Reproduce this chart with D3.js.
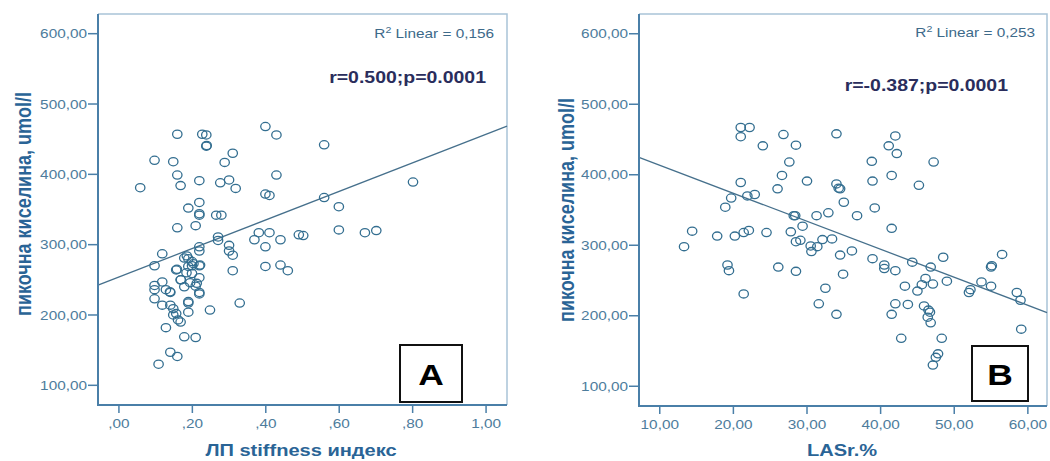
<!DOCTYPE html>
<html>
<head>
<meta charset="utf-8">
<script src="https://cdn.jsdelivr.net/npm/d3@7"></script>
<style>
  body { margin: 0; background: #fff; }
  svg { display: block; font-family: "Liberation Sans", Arial, sans-serif; }
</style>
</head>
<body>
<svg id="chart" width="1050" height="461"></svg>
<script>
// panel A: LA stiffness index vs uric acid
const aStiff = [0.058,0.097,0.097,0.118,0.097,0.097,0.097,0.118,0.118,0.128,0.14,0.14,0.128,0.14,0.159,0.108,
  0.148,0.159,0.159,0.168,0.159,0.148,0.156,0.148,0.168,0.158,0.168,0.178,0.189,0.189,0.189,0.178,0.178,0.189,
  0.199,0.199,0.189,0.184,0.199,0.194,0.209,0.219,0.219,0.209,0.219,0.219,0.219,0.219,0.219,0.219,0.219,0.219,
  0.209,0.248,0.227,0.238,0.239,0.238,0.265,0.279,0.276,0.288,0.3,0.31,0.318,0.27,0.27,0.3,0.3,0.31,0.31,0.329,
  0.369,0.381,0.399,0.429,0.429,0.399,0.41,0.399,0.41,0.44,0.399,0.44,0.46,0.49,0.502,0.559,0.559,0.599,0.599,
  0.67,0.701,0.801,0.185,0.203,0.156,0.221,0.169,0.212,0.139,0.189,0.161];
const aUric = [381,420,270,287,242,236,223,247,214,236,232,214,182,147,141,130,
  418,457,399,384,324,209,202,200,190,265,250,169,204,217,352,281,240,280,
  276,270,269,260,259,246,241,253,270,327,360,344,342,391,297,291,232,230,
  168,207,457,456,441,440,342,342,388,417,392,430,380,311,306,299,291,285,263,217,
  307,317,468,456,399,372,370,297,317,307,269,271,263,314,313,442,367,354,321,
  317,320,389,284,273,264,271,250,245,233,219,193];

// panel B: LASr % vs uric acid
const bLasr = [13.3,14.4,17.8,18.9,19.2,19.4,19.7,20.2,21.0,21.0,21.0,22.2,21.4,22.1,21.9,22.9,21.4,24.0,24.5,
  26.0,26.1,26.6,26.8,27.6,27.8,28.2,28.4,28.5,28.5,29.1,28.5,29.4,30.0,30.5,30.6,31.4,31.3,32.1,32.9,33.4,32.5,
  31.6,34.0,34.0,34.0,34.3,34.5,35.0,34.5,34.9,36.1,36.8,38.8,38.9,39.2,38.9,40.5,40.5,41.1,42.0,42.2,41.5,41.5,
  42.0,42.0,41.5,42.8,43.3,43.7,44.3,45.2,45.0,45.6,46.1,45.9,46.5,46.7,46.4,46.8,46.8,47.1,47.2,47.1,47.5,47.8,
  48.3,48.5,49.0,52.0,52.2,53.7,55.0,55.0,55.1,56.5,58.5,59.0,59.1];
const bUric = [298,320,313,354,272,264,367,313,389,454,467,467,318,321,370,372,231,441,318,
  380,269,399,457,418,319,342,342,442,305,307,263,327,391,299,291,298,342,308,346,309,239,
  217,202,458,387,381,380,361,286,259,292,342,419,391,353,281,272,267,441,455,430,399,324,
  264,217,202,168,242,216,276,385,235,244,253,214,208,205,198,190,269,245,418,130,141,146,
  168,283,249,233,237,248,242,269,271,287,233,222,181];

// fitted lines: [intercept, slope]
const aFit = [254, 203];
const bFit = [453.1, -3.97];

const yTicks = [100, 200, 300, 400, 500, 600];
const aXTicks = [0, 0.2, 0.4, 0.6, 0.8, 1.0];
const bXTicks = [10, 20, 30, 40, 50, 60];

const aStats = { r2: "0,156", r: "r=0.500;p=0.0001" };
const bStats = { r2: "0,253", r: "r=-0.387;p=0.0001" };

const SX = 1.18; // the source image is a bit wider than tall
const svg = d3.select("#chart");

const axisDark = "#4a7fa8", frameLight = "#a9c4d8";
const tickCol = "#4d7c9c", labelCol = "#2a6496", dotCol = "#336e90";

function sText(g, x, y, str, size, opts = {}) {
  return g.append("text")
    .attr("transform", `translate(${x},${y}) ${opts.rotate ? "rotate(-90) scale(1," + SX + ")" : "scale(" + SX + ",1)"}`)
    .attr("text-anchor", opts.anchor || "start")
    .attr("dominant-baseline", opts.baseline || "auto")
    .style("font-size", size + "px")
    .style("font-weight", opts.bold ? "bold" : "normal")
    .style("fill", opts.fill || "#000")
    .text(str);
}

function fmtComma(v) {
  return d3.format(".2f")(v).replace(".", ",");
}

function drawPanel(cfg) {
  const g = svg.append("g");
  const x = d3.scaleLinear().domain(cfg.xDomain).range([cfg.left, cfg.right]);
  const y = d3.scaleLinear().domain([72, 628]).range([cfg.bottom, cfg.top]);

  // light top / right frame
  g.append("path")
    .attr("d", `M${cfg.left},${cfg.top}H${cfg.right}V${cfg.bottom}`)
    .attr("fill", "none").attr("stroke", frameLight).attr("stroke-width", 1.5);

  // regression line
  const [b0, b1] = cfg.fit;
  g.append("line")
    .attr("x1", x(cfg.xDomain[0])).attr("y1", y(b0 + b1 * cfg.xDomain[0]))
    .attr("x2", x(cfg.xDomain[1])).attr("y2", y(b0 + b1 * cfg.xDomain[1]))
    .attr("stroke", "#46708c").attr("stroke-width", 1.3);

  // points
  g.selectAll("ellipse.pt")
    .data(cfg.xs.map((v, i) => [v, cfg.ys[i]]))
    .enter().append("ellipse")
    .attr("class", "pt")
    .attr("cx", d => x(d[0]))
    .attr("cy", d => y(d[1]))
    .attr("rx", 4.7).attr("ry", 4.1)
    .attr("fill", "none")
    .attr("stroke", dotCol)
    .attr("stroke-width", 1.3);

  // y axis
  const yAx = g.append("g");
  yAx.append("line")
    .attr("x1", cfg.left).attr("x2", cfg.left).attr("y1", cfg.top).attr("y2", cfg.bottom + 1)
    .attr("stroke", axisDark).attr("stroke-width", 2);
  yTicks.forEach(t => {
    yAx.append("line")
      .attr("x1", cfg.left - 10).attr("x2", cfg.left).attr("y1", y(t)).attr("y2", y(t))
      .attr("stroke", axisDark).attr("stroke-width", 1.5);
    sText(yAx, cfg.left - 11, y(t), fmtComma(t), 13, { anchor: "end", baseline: "central", fill: tickCol });
  });

  // x axis
  const xAx = g.append("g");
  xAx.append("line")
    .attr("x1", cfg.left - 1).attr("x2", cfg.right).attr("y1", cfg.bottom).attr("y2", cfg.bottom)
    .attr("stroke", axisDark).attr("stroke-width", 2);
  cfg.xTicks.forEach(t => {
    xAx.append("line")
      .attr("x1", x(t)).attr("x2", x(t)).attr("y1", cfg.bottom).attr("y2", cfg.bottom + 8)
      .attr("stroke", axisDark).attr("stroke-width", 1.5);
    sText(xAx, x(t), cfg.bottom + 23, cfg.xFmt(t), 13, { anchor: "middle", fill: tickCol });
  });

  // axis titles
  sText(g, cfg.yLabelX, cfg.yLabelY, "пикочна киселина, umol/l", 18,
    { anchor: "middle", bold: true, fill: labelCol, rotate: true });
  sText(g, cfg.xLabelX, cfg.xLabelY, cfg.xLabel, 17, { anchor: "middle", bold: true, fill: labelCol });

  // R2 note
  const r2 = g.append("text")
    .attr("transform", `translate(${cfg.r2X},${cfg.r2Y}) scale(${SX},1)`)
    .attr("text-anchor", "end")
    .style("font-size", "13px").style("fill", "#3d6a8a");
  r2.append("tspan").text("R");
  r2.append("tspan").attr("dy", -5).style("font-size", "9px").text("2");
  r2.append("tspan").attr("dy", 5).text(" Linear = " + cfg.stats.r2);

  sText(g, cfg.rX, cfg.rY, cfg.stats.r, 16.5, { anchor: "end", bold: true, fill: "#2a2d5c" });

  // panel letter box
  g.append("rect")
    .attr("x", cfg.box[0]).attr("y", cfg.box[1]).attr("width", cfg.box[2]).attr("height", cfg.box[3])
    .attr("fill", "#fff").attr("stroke", "#111").attr("stroke-width", 2);
  sText(g, cfg.box[0] + cfg.box[2] / 2, cfg.box[1] + cfg.box[3] / 2 + 11, cfg.letter, 30,
    { anchor: "middle", bold: true });
}

drawPanel({
  xs: aStiff, ys: aUric, fit: aFit, stats: aStats, letter: "A",
  xDomain: [-0.057, 1.057], xTicks: aXTicks,
  xFmt: v => fmtComma(v).replace(/^0,/, ","),
  left: 98, right: 507, top: 14, bottom: 405,
  yLabelX: 31, yLabelY: 204, xLabelX: 301, xLabelY: 456, xLabel: "ЛП stiffness индекс",
  r2X: 494, r2Y: 38, rX: 486, rY: 82.5,
  box: [400, 345, 62, 57]
});

drawPanel({
  xs: bLasr, ys: bUric, fit: bFit, stats: bStats, letter: "B",
  xDomain: [7.18, 62.6], xTicks: bXTicks,
  xFmt: v => fmtComma(v),
  left: 639, right: 1047, top: 14, bottom: 406,
  yLabelX: 574, yLabelY: 210, xLabelX: 842, xLabelY: 456, xLabel: "LASr.%",
  r2X: 1035, r2Y: 37, rX: 1008, rY: 91,
  box: [972, 346, 56, 55]
});
</script>
</body>
</html>
